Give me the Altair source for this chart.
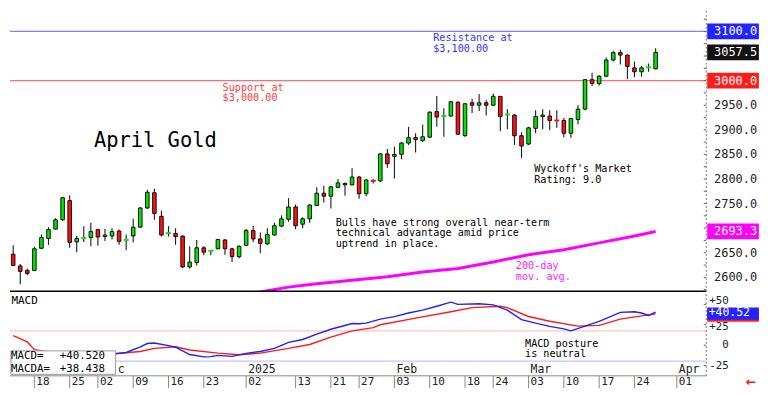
import altair as alt
import pandas as pd
import numpy as np

MONO = "DejaVu Sans Mono"

# ---------------- trading days (t = 0 is 2024-11-18) ----------------
nov = [13, 14, 15, 18, 19, 20, 21, 22, 25, 26, 27, 29]
dec = [2, 3, 4, 5, 6, 9, 10, 11, 12, 13, 16, 17, 18, 19, 20, 23, 24, 26, 27, 30, 31]
jan = [2, 3, 6, 7, 8, 9, 10, 13, 14, 15, 16, 17, 21, 22, 23, 24, 27, 28, 29, 30, 31]
feb = [3, 4, 5, 6, 7, 10, 11, 12, 13, 14, 18, 19, 20, 21, 24, 25, 26, 27, 28]
mar = [3, 4, 5, 6, 7, 10, 11, 12, 13, 14, 17, 18, 19, 20, 21, 24, 25, 26, 27]
dates = ([f"2024-11-{d:02d}" for d in nov] + [f"2024-12-{d:02d}" for d in dec] +
         [f"2025-01-{d:02d}" for d in jan] + [f"2025-02-{d:02d}" for d in feb] +
         [f"2025-03-{d:02d}" for d in mar])
t_index = list(range(-3, len(dates) - 3))

# ---------------- April gold daily OHLC ----------------
opens = [2647, 2623, 2614, 2614, 2659, 2679, 2698, 2717, 2756, 2672,
         2679, 2681, 2697, 2683, 2684, 2694, 2675, 2684, 2702, 2741,
         2772, 2724, 2689, 2689, 2684, 2621, 2630, 2660, 2653, 2658,
         2676, 2658, 2642, 2665, 2695, 2678, 2668, 2686, 2704, 2718,
         2743, 2708, 2719, 2746, 2771, 2765, 2783, 2791, 2788, 2804,
         2770, 2797, 2796, 2851, 2846, 2850, 2873, 2884, 2878, 2885,
         2937, 2927, 2928, 2956, 2888, 2955, 2950, 2955, 2950, 2968,
         2930, 2930, 2888, 2871, 2903, 2927, 2928, 2920, 2919, 2893,
         2921, 2942, 3002, 2994, 3009, 3042, 3057, 3052, 3026, 3018,
         3026, 3024]
highs = [2665, 2627, 2618, 2662, 2687, 2702, 2720, 2763, 2767, 2684,
         2704, 2711, 2699, 2698, 2700, 2697, 2687, 2719, 2743, 2778,
         2780, 2736, 2704, 2700, 2685, 2663, 2676, 2663, 2656, 2678,
         2678, 2660, 2665, 2698, 2705, 2691, 2700, 2711, 2726, 2761,
         2748, 2722, 2749, 2783, 2786, 2786, 2800, 2793, 2822, 2806,
         2800, 2800, 2853, 2861, 2866, 2875, 2906, 2893, 2911, 2937,
         2969, 2944, 2958, 2958, 2954, 2963, 2973, 2960, 2974, 2969,
         2942, 2932, 2895, 2906, 2940, 2942, 2940, 2940, 2924, 2924,
         2950, 3003, 3016, 3011, 3047, 3061, 3063, 3053, 3039, 3030,
         3035, 3066]
lows = [2623, 2586, 2604, 2613, 2658, 2666, 2697, 2715, 2660, 2651,
        2672, 2663, 2664, 2674, 2677, 2666, 2655, 2671, 2701, 2739,
        2717, 2683, 2683, 2666, 2619, 2618, 2624, 2645, 2645, 2657,
        2646, 2631, 2639, 2664, 2672, 2649, 2666, 2685, 2702, 2713,
        2698, 2700, 2711, 2745, 2752, 2740, 2781, 2766, 2787, 2760,
        2765, 2791, 2794, 2823, 2801, 2840, 2869, 2854, 2875, 2884,
        2906, 2886, 2927, 2890, 2886, 2934, 2938, 2929, 2948, 2897,
        2901, 2869, 2843, 2869, 2893, 2901, 2899, 2904, 2885, 2884,
        2911, 2940, 2989, 2990, 3008, 3039, 3033, 3003, 3007, 3008,
        3018, 3023]
closes = [2624, 2612, 2608, 2658, 2681, 2697, 2717, 2762, 2671, 2679,
          2680, 2693, 2682, 2686, 2693, 2673, 2676, 2702, 2741, 2773,
          2730, 2686, 2690, 2683, 2621, 2631, 2660, 2651, 2654, 2677,
          2658, 2642, 2663, 2695, 2678, 2669, 2687, 2705, 2719, 2743,
          2705, 2719, 2747, 2771, 2765, 2784, 2792, 2788, 2804, 2770,
          2798, 2796, 2851, 2831, 2850, 2873, 2884, 2880, 2886, 2936,
          2926, 2928, 2957, 2891, 2953, 2950, 2955, 2950, 2968, 2927,
          2931, 2888, 2867, 2904, 2927, 2930, 2919, 2919, 2893, 2923,
          2942, 3002, 2994, 3009, 3042, 3057, 3052, 3029, 3018, 3026,
          3027, 3057.5]

# 200-day moving average (read at a few trading days)
ma_t = [31, 36, 40, 45, 50, 55, 60, 65, 70, 75, 80, 85, 88]
ma_v = [2568, 2580, 2587, 2594, 2601, 2611, 2618, 2631, 2646, 2656, 2670, 2684, 2693.3]

# MACD (blue) and MACDA signal (red)
macd_t = [-3, 5, 11, 13, 15, 16, 17, 19, 20, 22, 24, 25, 26, 28, 30, 32, 34, 36, 38, 40,
          42, 45, 46, 47, 49, 51, 53, 55, 57, 59, 60, 63, 65, 67, 69, 71, 73, 75, 76, 78,
          80, 83, 85, 86, 87, 88]
macd_v = [-14, -15, -11, -9, -2, 2, 2.7, -0.5, -2.5, -11.5, -14.4, -14, -12.5, -13.7, -10,
          -7.8, -4, 3.5, 7, 13.5, 19.5, 26.6, 26.2, 27, 32, 35, 39.5, 43, 47.7, 52.8, 50,
          50.8, 49.5, 43, 31.3, 27, 23, 20, 17.6, 23.4, 29.3, 40.2, 41, 39.5, 36.5, 40.52]
sig_t = [-3, -1, 0, 5, 11, 15, 17, 20, 22, 26, 29, 32, 36, 39, 42, 45, 48, 49, 54, 59,
         62, 66, 67, 70, 73, 77, 80, 83, 86, 88]
sig_v = [11.7, 4, -5.5, -12, -10.9, -7.8, -4, -2, -5.9, -9.8, -11.7, -9.8, -3.9, 0.8, 9.8,
         17.6, 21.5, 25, 33.2, 41, 46, 47.7, 46, 35.2, 29.3, 23.4, 24.3, 32, 36, 38.438]
macd_hi_level = 17.6
macd_lo_level = -19.6

# levels
levels = [3100, 3000]
level_colors = ["#8282ff", "#ff6c6c"]

# value flags on the right axis
flag_vals = [3100.0, 3057.5, 3000.0, 2693.3]
flag_text = ["3100.0", "3057.5", "3000.0", "2693.3"]
flag_fill = ["#2323ff", "#111111", "#ff1c1c", "#ff00ff"]

# price axis: ticks every 25, labels where not hidden by a flag
price_tick_vals = [2575, 2600, 2625, 2650, 2675, 2700, 2725, 2750, 2775, 2800, 2825, 2850,
                   2875, 2900, 2925, 2950, 2975, 3000, 3025, 3050, 3075, 3100, 3125]
price_label_vals = [2600, 2650, 2750, 2800, 2850, 2900, 2950]
macd_ticks = [-25, 0, 25, 50]
macd_label_pos = [-25, 0, 22.5, 54.5]

# date axis
tick_t = [0, 5, 9, 14, 19, 24, 30, 37, 42, 46, 51, 56, 61, 65, 70, 75, 80, 85, 91]
tick_lbl = ["18", "25", "02", "09", "16", "23", "02", "13", "21", "27", "03", "10",
            "18", "24", "03", "10", "17", "24", "01"]
month_t = [11.53, 30, 51, 70, 91]
month_lbl = ["c", "2025", "Feb", "Mar", "Apr"]   # "Dec" is hidden behind the legend box

# annotations (trading-day position, price)
note_text = ["Resistance at", "$3,100.00", "Support at", "$3,000.00",
             "Bulls have strong overall near-term", "technical advantage amid price",
             "uptrend in place.", "Wyckoff's Market", "Rating: 9.0", "200-day", "mov. avg."]
note_t = [56.5, 56.5, 26.66, 26.66, 42.68, 42.68, 42.68, 70.8, 70.8, 68.2, 68.2]
note_p = [3086.5, 3065.0, 2985.5, 2964.0, 2711.0, 2689.5, 2668.0, 2819.5, 2798.0,
          2622.5, 2601.0]
note_color = ["#3535ff", "#3535ff", "#ff3b3b", "#ff3b3b", "#000000", "#000000", "#000000",
              "#000000", "#000000", "#ff1cff", "#ff1cff"]

# ---------------- geometry ----------------
KX = 752 / 768
KY = 379 / 395
W = 714 * KX
XDOM = [(0 - 25) / 7.24, (714 - 25) / 7.24]
PDOM = [2570.8, 3144.1]
MDOM = [-52.75, 64.48]
H_PRICE = 295 * KY
H_MACD = 100 * KY
FLAG_T0, FLAG_T1 = (715 - 25) / 7.24, (768 - 25) / 7.24
FLAG_TXT_T = (722 - 25) / 7.24
AXIS_T = XDOM[1]
MACD_LBL_T = (737 - 25) / 7.24

XS = alt.Scale(domain=XDOM, nice=False, zero=False, padding=0)
YP = alt.Scale(domain=PDOM, nice=False, zero=False, padding=0)
YM = alt.Scale(domain=MDOM, nice=False, zero=False, padding=0)
DIRS = alt.Scale(domain=["up", "down"], range=["#00e400", "#ff1010"])


def xq(f):
    return alt.X(f, scale=XS, axis=None)


def yp(f):
    return alt.Y(f, scale=YP, axis=None)


def ym(f):
    return alt.Y(f, scale=YM, axis=None)


candles = pd.DataFrame(dict(t=t_index, date=dates, open=opens, high=highs,
                            low=lows, close=closes))
candles["dir"] = np.where(candles["close"] >= candles["open"], "up", "down")
candles["doji"] = (candles["close"] - candles["open"]).abs() < 1.5

# --- price panel layers
lv = pd.DataFrame(dict(level=levels, color=level_colors, t0=XDOM[0], t1=XDOM[1]))
level_layer = alt.Chart(lv).mark_rule(strokeWidth=1.2).encode(
    x=xq("t0:Q"), x2="t1:Q", y=yp("level:Q"), color=alt.Color("color:N", scale=None))

ma_layer = alt.Chart(pd.DataFrame(dict(t=ma_t, v=ma_v))).mark_line(
    color="#ff00ff", strokeWidth=3, clip=True).encode(x=xq("t:Q"), y=yp("v:Q"))

wick_layer = alt.Chart(candles).mark_rule(color="#1a1a1a", strokeWidth=1.1).encode(
    x=xq("t:Q"), y=yp("low:Q"), y2="high:Q")

body_layer = alt.Chart(candles[~candles["doji"]]).mark_bar(
    size=3.6, stroke="black", strokeWidth=0.9).encode(
    x=xq("t:Q"), y=yp("open:Q"), y2="close:Q",
    fill=alt.Fill("dir:N", scale=DIRS, legend=None))

doji_layer = alt.Chart(candles[candles["doji"]]).transform_calculate(
    ta="datum.t - 0.36", tb="datum.t + 0.36").mark_rule(strokeWidth=1.8).encode(
    x=xq("ta:Q"), x2="tb:Q", y=yp("close:Q"),
    color=alt.Color("dir:N", scale=DIRS, legend=None))

notes_df = pd.DataFrame(dict(text=note_text, t=note_t, p=note_p, color=note_color))
notes_layer = alt.Chart(notes_df).mark_text(
    align="left", baseline="middle", font=MONO, fontSize=10.2).encode(
    x=xq("t:Q"), y=yp("p:Q"), text="text:N", color=alt.Color("color:N", scale=None))

title_layer = alt.Chart(pd.DataFrame(dict(text=["April Gold"], t=[8.43], p=[2877]))).mark_text(
    align="left", baseline="middle", font=MONO, fontSize=20.5, color="#000").encode(
    x=xq("t:Q"), y=yp("p:Q"), text="text:N")

sep_df = pd.DataFrame(dict(t0=[XDOM[0]], t1=[AXIS_T], p=[PDOM[0] + 0.8]))
sep_layer = alt.Chart(sep_df).mark_rule(color="#000", strokeWidth=1.3).encode(
    x=xq("t0:Q"), x2="t1:Q", y=yp("p:Q"))

# right price axis: dotted line, small ticks, labels
pax_line = alt.Chart(pd.DataFrame(dict(t=[AXIS_T], p0=[PDOM[0]], p1=[PDOM[1]]))).mark_rule(
    color="#777", strokeWidth=1, strokeDash=[2, 2]).encode(
    x=xq("t:Q"), y=yp("p0:Q"), y2="p1:Q")
ptk = pd.DataFrame(dict(p=price_tick_vals, t0=AXIS_T - 0.35, t1=AXIS_T))
ptick_layer = alt.Chart(ptk).mark_rule(color="#666", strokeWidth=1).encode(
    x=xq("t0:Q"), x2="t1:Q", y=yp("p:Q"))
plb = pd.DataFrame(dict(p=price_label_vals, lbl=[f"{v:.1f}" for v in price_label_vals],
                        tt=FLAG_TXT_T))
plabel_layer = alt.Chart(plb).mark_text(
    align="left", baseline="middle", font=MONO, fontSize=12, color="#222").encode(
    x=xq("tt:Q"), y=yp("p:Q"), text="lbl:N")

flags = pd.DataFrame(dict(v=flag_vals, text=flag_text, fill=flag_fill,
                          t0=FLAG_T0, t1=FLAG_T1, tt=FLAG_TXT_T))
flag_box = alt.Chart(flags).transform_calculate(
    lo="datum.v - 16", hi="datum.v + 16").mark_rect().encode(
    x=xq("t0:Q"), x2="t1:Q", y=yp("lo:Q"), y2="hi:Q",
    color=alt.Color("fill:N", scale=None))
flag_txt = alt.Chart(flags).mark_text(
    align="left", baseline="middle", font=MONO, fontSize=12, color="white").encode(
    x=xq("tt:Q"), y=yp("v:Q"), text="text:N")

price = alt.layer(level_layer, ma_layer, wick_layer, body_layer, doji_layer,
                  notes_layer, title_layer, sep_layer, pax_line, ptick_layer, plabel_layer,
                  flag_box, flag_txt).properties(width=W, height=H_PRICE)

# --- MACD panel
hl = pd.DataFrame(dict(v=[macd_hi_level, macd_lo_level], color=["#ffc4c4", "#c4c4ff"],
                       t0=XDOM[0], t1=AXIS_T))
hl_layer = alt.Chart(hl).mark_rule(strokeWidth=1.4).encode(
    x=xq("t0:Q"), x2="t1:Q", y=ym("v:Q"), color=alt.Color("color:N", scale=None))

sig_layer = alt.Chart(pd.DataFrame(dict(t=sig_t, v=sig_v))).mark_line(
    color="#ff1a1a", strokeWidth=1.4).encode(x=xq("t:Q"), y=ym("v:Q"))
macd_layer = alt.Chart(pd.DataFrame(dict(t=macd_t, v=macd_v))).mark_line(
    color="#1f1fff", strokeWidth=1.4).encode(x=xq("t:Q"), y=ym("v:Q"))

mnotes = pd.DataFrame(dict(text=["MACD", "MACD posture", "is neutral"],
                           t=[-3.25, 69.5, 69.5], v=[54.7, 1.8, -11.2],
                           size=[11, 10.2, 10.2]))
mnotes_layer = alt.Chart(mnotes).mark_text(
    align="left", baseline="middle", font=MONO, color="#000").encode(
    x=xq("t:Q"), y=ym("v:Q"), text="text:N",
    size=alt.Size("size:Q", scale=None, legend=None))

# right MACD axis
max_line = alt.Chart(pd.DataFrame(dict(t=[AXIS_T], v0=[-37.6], v1=[MDOM[1]]))).mark_rule(
    color="#777", strokeWidth=1, strokeDash=[2, 2]).encode(
    x=xq("t:Q"), y=ym("v0:Q"), y2="v1:Q")
mtk = pd.DataFrame(dict(v=macd_ticks, vp=macd_label_pos,
                        lbl=[("+" if v > 0 else "") + str(v) for v in macd_ticks],
                        t0=AXIS_T - 0.35, t1=AXIS_T, tt=MACD_LBL_T))
mtick_layer = alt.Chart(mtk).mark_rule(color="#666", strokeWidth=1).encode(
    x=xq("t0:Q"), x2="t1:Q", y=ym("v:Q"))
mlabel_layer = alt.Chart(mtk).mark_text(
    align="right", baseline="middle", font=MONO, fontSize=10.8, color="#222").encode(
    x=xq("tt:Q"), y=ym("vp:Q"), text="lbl:N")

# date row
row_line = alt.Chart(pd.DataFrame(dict(t0=[XDOM[0]], t1=[AXIS_T], v=[-37.6]))).mark_rule(
    color="#888", strokeWidth=1).encode(x=xq("t0:Q"), x2="t1:Q", y=ym("v:Q"))
ticks_df = pd.DataFrame(dict(t=tick_t, lbl=tick_lbl, v0=-37.6, v1=MDOM[0], vl=-45.4))
tick_rules = alt.Chart(ticks_df).mark_rule(color="#888", strokeWidth=1).encode(
    x=xq("t:Q"), y=ym("v0:Q"), y2="v1:Q")
tick_text = alt.Chart(ticks_df).mark_text(
    align="left", baseline="middle", dx=2, font=MONO, fontSize=11, color="#222").encode(
    x=xq("t:Q"), y=ym("vl:Q"), text="lbl:N")
month_text = alt.Chart(pd.DataFrame(dict(t=month_t, lbl=month_lbl, v=-30.5))).mark_text(
    align="left", baseline="middle", dx=2, font=MONO, fontSize=11.5, color="#222").encode(
    x=xq("t:Q"), y=ym("v:Q"), text="lbl:N")

# legend box
leg_box_df = pd.DataFrame(dict(t0=[(1 - 25) / 7.24], t1=[(108.3 - 25) / 7.24],
                               v0=[-7.0], v1=[-35.8]))
leg_box = alt.Chart(leg_box_df).mark_rect(fill="white", stroke="#999", strokeWidth=1).encode(
    x=xq("t0:Q"), x2="t1:Q", y=ym("v0:Q"), y2="v1:Q")
leg_txt_df = pd.DataFrame(dict(text=["MACD=", "MACDA=", "+40.520", "+38.438"],
                               t=[-3.3, -3.3, 3.59, 3.59], v=[-13.6, -29.2, -13.6, -29.2]))
leg_txt = alt.Chart(leg_txt_df).mark_text(
    align="left", baseline="middle", font=MONO, fontSize=10.8, color="#000").encode(
    x=xq("t:Q"), y=ym("v:Q"), text="text:N")

# value flags
mflags = pd.DataFrame(dict(lo=[28.7, 31.3], hi=[42.8, 46.1], fill=["#ff1c1c", "#2323ff"],
                           t0=FLAG_T0, t1=FLAG_T1))
mflag_box = alt.Chart(mflags).mark_rect().encode(
    x=xq("t0:Q"), x2="t1:Q", y=ym("lo:Q"), y2="hi:Q", color=alt.Color("fill:N", scale=None))
mflag_txt = alt.Chart(pd.DataFrame(dict(text=["+40.52"], t=[(716.5 - 25) / 7.24], v=[39.2]))
                      ).mark_text(align="left", baseline="middle", font=MONO, fontSize=11.5,
                                  color="white").encode(
    x=xq("t:Q"), y=ym("v:Q"), text="text:N")

arrow = alt.Chart(pd.DataFrame(dict(text=["\u2190"], t=[(760 - 25) / 7.24], v=[-45.4]))
                  ).mark_text(align="center", baseline="middle", font="DejaVu Sans",
                              fontSize=12, fontWeight="bold", color="#ff1010").encode(
    x=xq("t:Q"), y=ym("v:Q"), text="text:N")

macd = alt.layer(hl_layer, sig_layer, macd_layer, mnotes_layer, row_line, tick_rules,
                 tick_text, month_text, leg_box, leg_txt, max_line, mtick_layer,
                 mlabel_layer, mflag_box, mflag_txt, arrow
                 ).properties(width=W, height=H_MACD)

chart = alt.vconcat(price, macd, spacing=0, bounds="flush").properties(
    padding=0).configure_view(stroke="transparent")

chart.save("out.html", embed_options={"renderer": "svg", "actions": False})
